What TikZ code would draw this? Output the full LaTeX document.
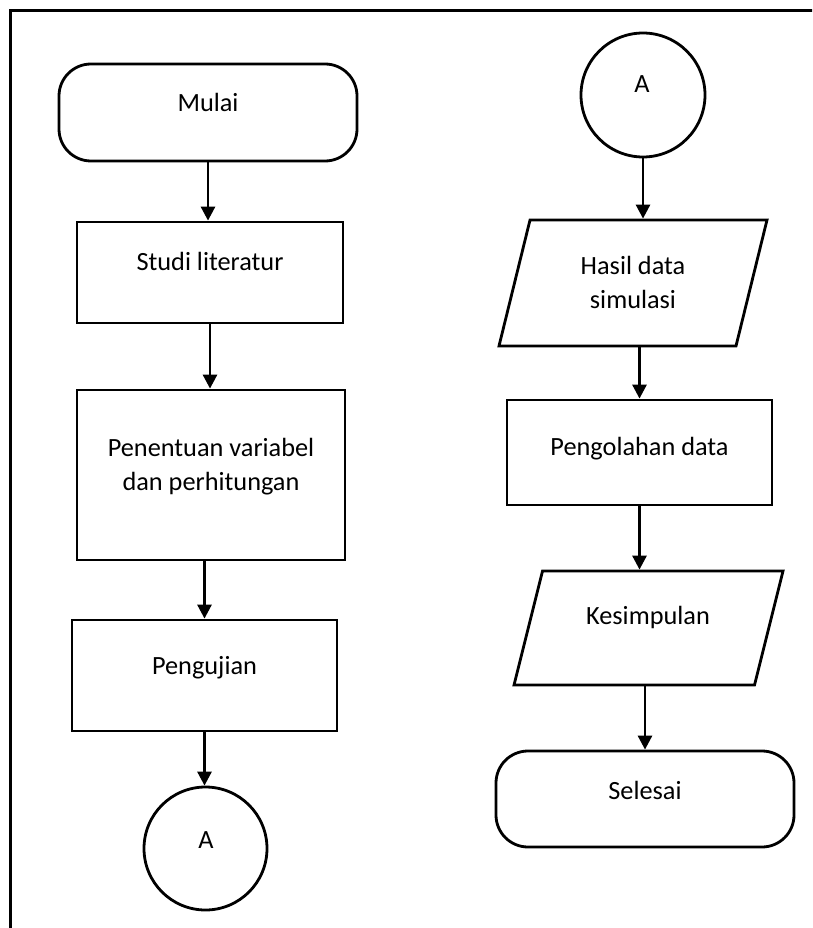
\documentclass[tikz,border=0pt]{standalone}
\usepackage{fontspec}
\setmainfont{Carlito}
\usetikzlibrary{arrows.meta,calc}
\begin{document}
\begin{tikzpicture}[x=1pt,y=-1pt,
  ln/.style={line width=2.8pt},
  box/.style={draw, line width=2.8pt, rectangle, inner sep=0pt, outer sep=1.4pt},
  term/.style={box, rounded corners=32pt},
  conn/.style={draw, line width=2.8pt, circle, inner sep=0pt, outer sep=1.4pt},
  pbox/.style={rectangle, inner sep=0pt, outer sep=0pt},
  txt/.style={font=\fontsize{26.3}{34}\selectfont, inner sep=0pt, anchor=base, align=center},
  arr/.style={line width=2.8pt, -{Triangle[length=14pt,width=14pt]}},
  parr/.style={arr, shorten >=1.4pt},
  pout/.style={shorten <=1.4pt}
]
\useasboundingbox (0,0) rectangle (812,928);
\begin{scope}
\clip (0,0) rectangle (812,928);
\draw[ln] (10.5,10.5) rectangle (840,960);
\end{scope}

% left column
\node[term, minimum width=298pt, minimum height=97pt] (mulai) at (208,112.5) {};
\node[txt] (tmulai) at (208,112) {Mulai};

\node[box, minimum width=266pt, minimum height=101pt] (studi) at (210,272.5) {};
\node[txt] (tstudi) at (210,270) {Studi literatur};

\node[box, minimum width=268pt, minimum height=170pt] (pen) at (211,475) {};
\node[txt] (tpen) at (211,490) {Penentuan variabel\\dan perhitungan};

\node[box, minimum width=265pt, minimum height=111pt] (peng) at (204.5,675.5) {};
\node[txt] (tpeng) at (204.5,674) {Pengujian};

\node[conn, minimum size=123pt] (abot) at (205.5,848.5) {};
\node[txt] (tabot) at (206,848) {A};

% right column
\node[conn, minimum size=124pt] (atop) at (643,95) {};
\node[txt] (tatop) at (642,93) {A};

\node[pbox, minimum width=268pt, minimum height=126pt] (hasil) at (633,283) {};
\draw[ln, line join=miter] ($(hasil.north west)+(31,0)$) -- (hasil.north east)
  -- ($(hasil.south east)-(31,0)$) -- (hasil.south west) -- cycle;
\node[txt] (thasil) at (633,308) {Hasil data\\simulasi};

\node[box, minimum width=265pt, minimum height=105pt] (olah) at (639.5,452.5) {};
\node[txt] (tolah) at (639.5,455) {Pengolahan data};

\node[pbox, minimum width=269pt, minimum height=114pt] (kes) at (648.5,628) {};
\draw[ln, line join=miter] ($(kes.north west)+(28.5,0)$) -- (kes.north east)
  -- ($(kes.south east)-(28.5,0)$) -- (kes.south west) -- cycle;
\node[txt] (tkes) at (648,624) {Kesimpulan};

\node[term, minimum width=298pt, minimum height=96pt] (selesai) at (645,799) {};
\node[txt] (tselesai) at (645,799) {Selesai};

% connectors
\draw[arr] (mulai.south) -- (mulai.south |- studi.north);
\draw[arr] (studi.south) -- (studi.south |- pen.north);
\draw[arr] (peng.north |- pen.south) -- (peng.north);
\draw[arr] (peng.south) -- (peng.south |- abot.north);
\draw[parr] (atop.south) -- (atop.south |- hasil.north);
\draw[arr, pout] (olah.north |- hasil.south) -- (olah.north);
\draw[parr] (olah.south) -- (olah.south |- kes.north);
\draw[arr, pout] (selesai.north |- kes.south) -- (selesai.north);
\end{tikzpicture}
\end{document}
